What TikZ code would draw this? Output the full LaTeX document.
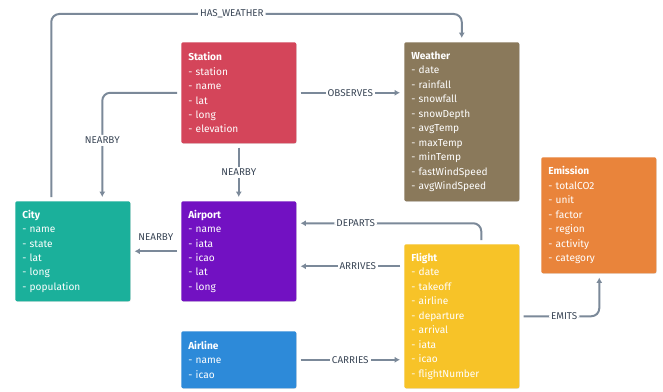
\documentclass[tikz,border=0pt]{standalone}
\usepackage{fontspec}
\setmainfont{Fira Sans}
\usetikzlibrary{arrows.meta,calc,shadows}

\definecolor{stationred}{HTML}{D4455A}
\definecolor{weatherbrown}{HTML}{8A795B}
\definecolor{emissionorange}{HTML}{E9843B}
\definecolor{cityteal}{HTML}{1BB09B}
\definecolor{airportpurple}{HTML}{7211C2}
\definecolor{airlineblue}{HTML}{2D8AD9}
\definecolor{flightyellow}{HTML}{F7C328}
\definecolor{linkgray}{HTML}{7B8999}
\definecolor{labelgray}{HTML}{3A4656}

\tikzset{
    entity/.style={rectangle, rounded corners=1.5pt, text=white, anchor=north west,
        inner xsep=5.25pt, inner ysep=0pt, minimum width=86.25pt, text width=75.75pt,
        align=left, font=\fontsize{7.6}{10.83}\selectfont,
        drop shadow={opacity=0.18, shadow xshift=0.4pt, shadow yshift=-0.5pt}},
    link/.style={draw=linkgray, line width=1.5pt, -{Latex[length=4pt,width=4.5pt]},
        shorten >=3pt, shorten <=3pt},
    lbl/.style={fill=white, text=labelgray, inner sep=1.5pt,
        font=\fontsize{7.4}{9}\selectfont}
}

\begin{document}
\begin{tikzpicture}[x=0.75pt, y=-0.75pt]
    \path[fill=white] (0,0) rectangle (663,392);
    \useasboundingbox (0,0) rectangle (663,392);

    %%nodes
    \node[entity, fill=stationred, minimum height=75.75pt] (station) at(181,42)
        {\textbf{Station}\\- station\\- name\\- lat\\- long\\- elevation};
    \node[entity, fill=weatherbrown, minimum height=119.25pt] (weather) at(404,42)
        {\textbf{Weather}\\- date\\- rainfall\\- snowfall\\- snowDepth\\- avgTemp\\- maxTemp\\- minTemp\\- fastWindSpeed\\- avgWindSpeed};
    \node[entity, fill=emissionorange, minimum height=87pt] (emission) at(541,157)
        {\textbf{Emission}\\- totalCO2\\- unit\\- factor\\- region\\- activity\\- category};
    \node[entity, fill=cityteal, minimum height=75pt] (city) at(15,201)
        {\textbf{City}\\- name\\- state\\- lat\\- long\\- population};
    \node[entity, fill=airportpurple, minimum height=75pt] (airport) at(181,201)
        {\textbf{Airport}\\- name\\- iata\\- icao\\- lat\\- long};
    \node[entity, fill=airlineblue, minimum height=42.75pt] (airline) at(181,331)
        {\textbf{Airline}\\- name\\- icao};
    \node[entity, fill=flightyellow, minimum height=108pt] (flight) at(404,244)
        {\textbf{Flight}\\- date\\- takeoff\\- airline\\- departure\\- arrival\\- iata\\- icao\\- flightNumber};

    %%links
    \coordinate (hwtop) at(0,14);
    \draw[link, rounded corners=6pt] ($(city.north)+(-21.5,0)$) |- node[lbl, pos=0.72]{HAS\_WEATHER} (hwtop -| weather.north) -- (weather.north);
    \draw[link, rounded corners=6pt] (station.west) -| node[lbl, pos=0.72]{NEARBY} ($(city.north)+(29.5,0)$);
    \draw[link] (station.south) -- node[lbl]{NEARBY} (airport.north);
    \draw[link] (station.east) -- node[lbl]{OBSERVES} (weather.west |- station.east);
    \draw[link] (airport.west) -- node[lbl, fill=none, above=5.5pt]{NEARBY} (city.east);
    \draw[link, rounded corners=6pt] ($(flight.north)+(19.5,0)$) |- node[lbl, pos=0.84]{DEPARTS} ($(airport.east)+(0,-28)$);
    \draw[link] ($(flight.west)+(0,-50)$) -- node[lbl, pos=0.43]{ARRIVES} ($(airport.east)+(0,15)$);
    \draw[link] (airline.east) -- node[lbl]{CARRIES} (flight.west |- airline.east);
    \draw[link, rounded corners=6pt] (flight.east) -| node[lbl, pos=0.28]{EMITS} ($(emission.south)+(0.5,0)$);
\end{tikzpicture}
\end{document}
